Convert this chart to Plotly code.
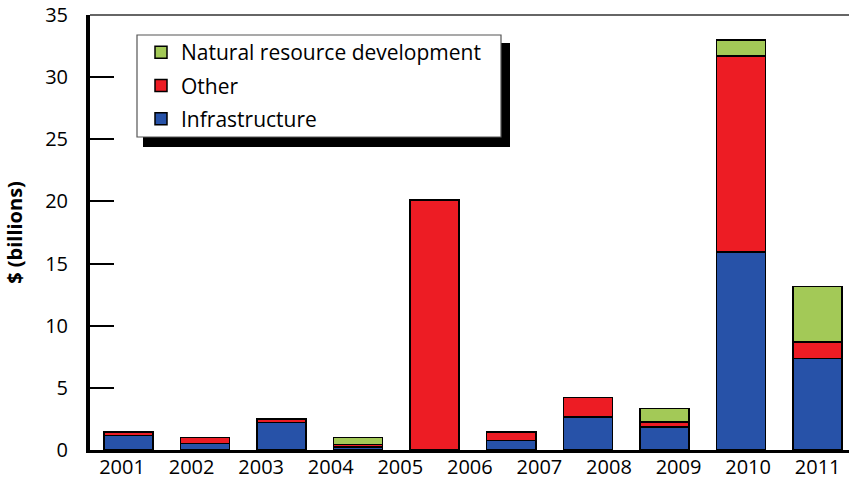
import plotly.graph_objects as go

# ---- data ----
bar_slots = ["b1", "b2", "b3", "b4", "b5", "b6", "b7", "b8", "b9", "b10"]
year_labels = ["2001", "2002", "2003", "2004", "2005", "2006",
               "2007", "2008", "2009", "2010", "2011"]
infrastructure = [1.15, 0.54, 2.23, 0.25, 0.0, 0.78, 2.66, 1.85, 15.94, 7.35]
other = [0.28, 0.48, 0.27, 0.20, 20.12, 0.65, 1.56, 0.41, 15.75, 1.33]
natural_resource = [0.0, 0.0, 0.0, 0.57, 0.0, 0.0, 0.0, 1.07, 1.29, 4.47]
y_ticks = [0, 5, 10, 15, 20, 25, 30, 35]

series = [
    ("Infrastructure", infrastructure, "#2752A8", 3),
    ("Other", other, "#ED1C24", 2),
    ("Natural resource development", natural_resource, "#A3C957", 1),
]

FONT = "Open Sans"
L, T, W, H = 90, 15, 759, 435   # plot area in pixels


def px_x(v):
    return (v - L) / W


def px_y(v):
    return (T + H - v) / H


fig = go.Figure()
for name, vals, color, rank in series:
    fig.add_trace(go.Bar(
        x=bar_slots, y=vals, name=name, legendrank=rank, legendgroup=name,
        marker=dict(color=color, line=dict(color="black", width=1.5)),
        xaxis="x", yaxis="y",
    ))

# invisible trace carrying the year tick labels on an overlaid axis
fig.add_trace(go.Scatter(
    x=year_labels, y=[0] * len(year_labels), mode="markers",
    marker=dict(opacity=0), showlegend=False, hoverinfo="skip",
    xaxis="x2", yaxis="y",
))

fig.update_layout(
    width=849, height=483,
    margin=dict(l=L, r=849 - L - W, t=T, b=483 - T - H),
    paper_bgcolor="white", plot_bgcolor="white",
    barmode="stack", bargap=0.36,
    font=dict(family=FONT, size=20, color="black"),
    showlegend=True,
    legend=dict(
        x=px_x(141), y=px_y(32), xanchor="left", yanchor="top",
        bgcolor="rgba(0,0,0,0)", borderwidth=0,
        font=dict(family=FONT, size=21, color="black"),
        traceorder="grouped", tracegroupgap=3,
        itemwidth=30,
    ),
    xaxis=dict(
        type="category", range=[-0.5, 9.41], showticklabels=False,
        ticks="", showgrid=False, zeroline=False, automargin=False,
        showline=True, linecolor="black", linewidth=3,
    ),
    xaxis2=dict(
        type="category", overlaying="x", side="bottom", range=[-0.46, 10.45],
        showgrid=False, zeroline=False, showline=False, ticks="",
        automargin=False, ticklabelstandoff=3,
        tickfont=dict(family=FONT, size=20, color="black"),
    ),
    yaxis=dict(
        range=[0, 35], tickvals=y_ticks, ticks="inside", ticklen=24,
        tickwidth=1.5, tickcolor="black", showgrid=False, zeroline=False,
        showline=True, linecolor="black", linewidth=4, automargin=False,
        ticklabelstandoff=14,
        tickfont=dict(family=FONT, size=20, color="black"),
        title=dict(text="<b>$ (billions)</b>", standoff=18,
                   font=dict(family=FONT, size=20, color="black")),
    ),
    shapes=[
        # grey frame line along the top of the plot
        dict(type="line", xref="paper", yref="paper", x0=0, x1=1, y0=1, y1=1,
             line=dict(color="#666666", width=2), layer="above"),
        # legend drop shadow
        dict(type="rect", xref="paper", yref="paper",
             x0=px_x(143), x1=px_x(510), y0=px_y(147), y1=px_y(43),
             fillcolor="black", line=dict(width=0), layer="above"),
        # legend box
        dict(type="rect", xref="paper", yref="paper",
             x0=px_x(137), x1=px_x(501), y0=px_y(137), y1=px_y(35),
             fillcolor="white", line=dict(color="#555555", width=1.2),
             layer="above"),
    ],
)

fig.write_html(
    "out.html",
    config={"displayModeBar": False},
    post_script="document.body.style.margin='0';document.body.style.padding='0';",
)
